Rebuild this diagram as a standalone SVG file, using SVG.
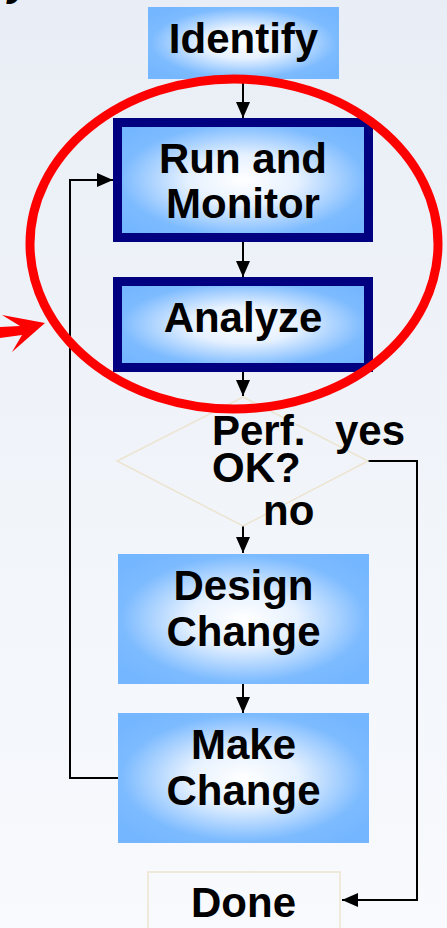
<svg xmlns="http://www.w3.org/2000/svg" width="447" height="928" viewBox="0 0 447 928">
<defs>
<linearGradient id="bg" x1="0" y1="0" x2="0" y2="1">
<stop offset="0" stop-color="#e9eef6"/>
<stop offset="1" stop-color="#f8fafd"/>
</linearGradient>
<radialGradient id="boxg" cx="0.5" cy="0.5" r="0.62">
<stop offset="0" stop-color="#ffffff"/>
<stop offset="0.35" stop-color="#e6f1ff"/>
<stop offset="0.78" stop-color="#7dbbff"/>
<stop offset="1" stop-color="#74b6ff"/>
</radialGradient>
<marker id="ah" viewBox="0 0 16 14" refX="16" refY="7" markerWidth="16" markerHeight="14" markerUnits="userSpaceOnUse" orient="auto">
<path d="M0,0 L16,7 L0,14 Z" fill="#000"/>
</marker>
<style>
.t{font-family:"Liberation Sans",Arial,sans-serif;font-weight:bold;font-size:42px;fill:#000;}
.c{text-anchor:middle;}
.box{fill:url(#boxg);}
.nb{fill:url(#boxg);stroke:#000080;stroke-width:9;}
.faint{fill:none;stroke:#ece4d0;stroke-width:1.5;}
.ln{fill:none;stroke:#000;stroke-width:2;}
</style>
</defs>
<rect x="0" y="0" width="447" height="928" fill="url(#bg)"/>
<text class="t" x="8" y="-5" font-style="italic" font-size="60">y</text>

<g id="connectors">
<line class="ln" x1="243" y1="79" x2="243" y2="118" marker-end="url(#ah)"/>
<line class="ln" x1="243" y1="242" x2="243" y2="277" marker-end="url(#ah)"/>
<line class="ln" x1="243" y1="372" x2="243" y2="396" marker-end="url(#ah)"/>
<line class="ln" x1="243" y1="526" x2="243" y2="553" marker-end="url(#ah)"/>
<line class="ln" x1="243" y1="684" x2="243" y2="713" marker-end="url(#ah)"/>
<polyline class="ln" points="118,778 70,778 70,180 113,180" marker-end="url(#ah)"/>
<polyline class="ln" points="368,461 417,461 417,900 342,900" marker-end="url(#ah)"/>
</g>

<g id="identify">
<rect class="box" x="148" y="7" width="191" height="72"/>
<text class="t c" x="243.5" y="53">Identify</text>
</g>

<g id="run">
<rect class="nb" x="117.5" y="122.5" width="251" height="115"/>
<text class="t c" x="243" y="173">Run and<tspan x="243" dy="45">Monitor</tspan></text>
</g>

<g id="analyze">
<rect class="nb" x="117.5" y="281.5" width="251" height="86"/>
<text class="t c" x="243" y="332">Analyze</text>
</g>

<g id="decision">
<polygon class="faint" points="243,397 368,461 243,526 117,461"/>
<text class="t" x="212" y="445">Perf.<tspan x="212" dy="37">OK?</tspan></text>
<text class="t" x="335" y="445">yes</text>
<text class="t" x="263" y="525">no</text>
</g>

<g id="design">
<rect class="box" x="118" y="554" width="251" height="130"/>
<text class="t c" x="243.5" y="600">Design<tspan x="243.5" dy="46">Change</tspan></text>
</g>

<g id="make">
<rect class="box" x="118" y="713" width="251" height="130"/>
<text class="t c" x="243.5" y="759">Make<tspan x="243.5" dy="46">Change</tspan></text>
</g>

<g id="done">
<rect class="faint" x="148" y="872" width="192" height="70"/>
<text class="t c" x="243.5" y="917">Done</text>
</g>

<g id="highlight">
<ellipse cx="234" cy="244" rx="204" ry="165" fill="none" stroke="#ff0000" stroke-width="9"/>
<polygon points="0,327 20,326 2,315 45,323 12,352 22,335 0,338" fill="#ff0000"/>
</g>
</svg>
